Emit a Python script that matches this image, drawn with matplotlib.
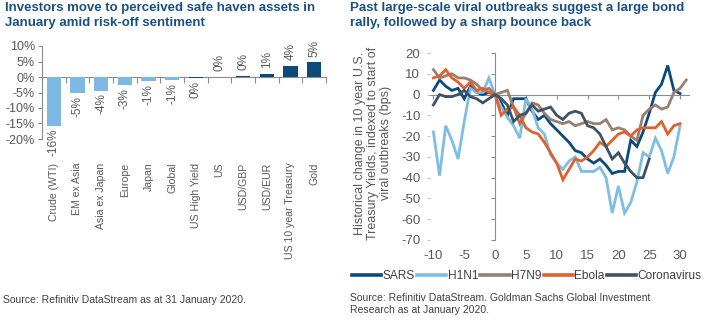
import matplotlib
matplotlib.use("Agg")
import matplotlib.pyplot as plt
import numpy as np
from matplotlib.lines import Line2D

plt.rcParams['font.family'] = ['Liberation Sans', 'DejaVu Sans']

# ---------------- data: left chart ----------------
categories = ["Crude (WTI)", "EM ex Asia", "Asia ex Japan", "Europe", "Japan", "Global",
              "US High Yield", "US", "USD/GBP", "USD/EUR", "US 10 year Treasury", "Gold"]
returns = [-15.7, -5.2, -4.4, -2.6, -1.4, -1.1, -0.4, 0.05, 0.4, 1.1, 3.6, 4.7]
safe_haven = [False, False, False, False, False, False, True, True, True, True, True, True]

# ---------------- data: right chart ----------------
sars = [2, 7, 4, 2, 3, -2, 4, 1, 0, 1, 0, -4, -10, -2, -2, -2, -8, -12, -10, -14, -17,
        -20, -23, -27, -28, -31, -33, -31, -34, -38, -37, -37, -22, -25, -18, -9, 1, 5, 14, 2, 0.5]
h1n1 = [-18, -39, -15, -22, -31, -13, 3, 1, 1, 8, 0, -6, -11, -15, -21, -2, -7, -16, -19, -29, -33,
        -36, -32, -30, -37, -37, -37, -35, -40, -57, -44, -57, -52, -42, -28, -30, -21, -27, -38, -30, -15]
h7n9 = [12, 8, 9, 10, 8, 8, 7, 5, 2, 3, 0, 1, 2, -6, -14, -9, -4, -5, -9, -12, -13,
        -14, -13, -15, -14, -13, -14, -14, -12, -17, -16, -17, -20, -22, -10, -7, -5, -7, -6, 1, 3, 7]
ebola = [8, 9, 12, 8, 6, 3, 6, 2, 3, 1, 0, -10, -7, -6, -10, -16, -18, -19, -23, -28, -33,
         -41, -36, -31, -32, -30, -27, -23, -25, -22, -19, -18, -20, -17, -16, -16, -16, -13, -19, -15, -14]
corona = [-5, 0, -1, -1, 0, 2, -1, -2, -4, -2, 0, -2, -5, -13, -10, -9, -5, -8, -7, -6, -10,
          -12, -9, -8, -9, -15, -16, -19, -25, -31, -28, -33, -37, -40, -40, -31]
series_names = ["SARS", "H1N1", "H7N9", "Ebola", "Coronavirus"]
series_vals = [sars, h1n1, h7n9, ebola, corona]
series_colors = ["#0D4A7C", "#7EBDE6", "#9A7F6E", "#E0612B", "#3E5366"]
start_day = -10

W, H = 709, 321
navy = "#1A5183"
axis_gray = "#8C8C8C"
tick_col = "#595959"
text_col = "#404040"

fig = plt.figure(figsize=(W / 100, H / 100), dpi=100)

def fr(x0, y0, x1, y1):
    return [x0 / W, 1 - y1 / H, (x1 - x0) / W, (y1 - y0) / H]

# ---------------- left chart ----------------
ax1 = fig.add_axes(fr(42, 46, 326, 139))
x = np.arange(len(categories))
colors = ["#0D4A7C" if s else "#7DB9E2" for s in safe_haven]
ax1.bar(x, returns, width=0.6, color=colors, zorder=3)
ax1.set_xlim(-0.5, len(categories) - 0.5)
ax1.set_ylim(-20, 10)
yt = np.arange(-20, 11, 5)
ax1.set_yticks(yt)
ax1.set_yticklabels([f"{t}%" for t in yt], fontsize=9, color=tick_col)
ax1.tick_params(axis='y', length=3, width=0.8, color=axis_gray, pad=2)
ax1.set_xticks(x)
ax1.set_xticklabels(categories, rotation=90, fontsize=7.6, color=tick_col)
ax1.tick_params(axis='x', length=0, pad=17)
for s in ["top", "right", "bottom"]:
    ax1.spines[s].set_visible(False)
ax1.spines["left"].set_color(axis_gray)
ax1.patch.set_alpha(0)

for xi, v in zip(x, returns):
    lab = f"{int(round(v))}%"
    if v >= 0:
        ax1.annotate(lab, (xi, v), xytext=(0, 4), textcoords="offset points",
                     rotation=90, ha="center", va="bottom", fontsize=8.5, color=tick_col)
    else:
        ax1.annotate(lab, (xi, v), xytext=(0, -2), textcoords="offset points",
                     rotation=90, ha="center", va="top", fontsize=8.5, color=tick_col)

sec1 = ax1.secondary_xaxis(20 / 30)
sec1.set_xticks(np.arange(-0.5, len(categories), 1))
sec1.tick_params(axis='x', length=4, width=0.8, color=axis_gray, direction='in',
                 labeltop=False, labelbottom=False)
for sp in sec1.spines.values():
    sp.set_color(axis_gray)

# ---------------- right chart ----------------
ax2 = fig.add_axes(fr(430, 53, 689, 240))
xmin, xmax = -10.55, 31.45
for name, vals, col in zip(series_names, series_vals, series_colors):
    days = np.arange(start_day, start_day + len(vals))
    ax2.plot(days, vals, color=col, lw=2.0, label=name, solid_joinstyle='miter', zorder=3)
ax2.set_xlim(xmin, xmax)
ax2.set_ylim(-70, 20)
ax2.set_yticks(np.arange(-70, 21, 10))
ax2.set_yticklabels([str(t) for t in np.arange(-70, 21, 10)], fontsize=9.5, color=tick_col)
ax2.tick_params(axis='y', length=2, width=0.6, color="#BBBBBB", pad=5)
ax2.set_xticks(np.arange(-10, 31, 5))
ax2.set_xticklabels([str(t) for t in np.arange(-10, 31, 5)], fontsize=9.5, color=tick_col)
ax2.tick_params(axis='x', length=0, pad=7)
for s in ax2.spines.values():
    s.set_visible(False)
ax2.patch.set_alpha(0)

secx = ax2.secondary_xaxis(70 / 90)
secx.set_xticks(np.arange(-10, 31, 5))
secx.tick_params(axis='x', length=3, width=0.8, color=axis_gray, direction='in',
                 labeltop=False, labelbottom=False)
for sp in secx.spines.values():
    sp.set_color(axis_gray)

secy = ax2.secondary_yaxis((0 - xmin) / (xmax - xmin))
secy.set_yticks(np.arange(-70, 21, 10))
secy.tick_params(axis='y', length=3, width=0.8, color=axis_gray,
                 labelleft=False, labelright=False)
for sp in secy.spines.values():
    sp.set_color(axis_gray)

fig.text(373 / W, 1 - 143 / H,
         "Historical change in 10 year U.S.\nTreasury Yields, indexed to start of\nviral outbreaks (bps)",
         rotation=90, ha="center", va="center", multialignment="center",
         fontsize=9, color=tick_col, linespacing=1.15)

handles = [Line2D([0], [0], color=c, lw=2.6) for c in series_colors]
fig.legend(handles, series_names, loc="upper left", bbox_to_anchor=(352 / W, 1 - 270 / H),
           ncol=5, frameon=False, fontsize=8.6, handlelength=2.45, handletextpad=0.1,
           columnspacing=0.2, borderaxespad=0, borderpad=0, labelcolor=text_col)

# ---------------- titles & sources ----------------
fig.text(5 / W, 1 - 2 / H, "Investors move to perceived safe haven assets in\nJanuary amid risk-off sentiment",
         ha="left", va="top", fontsize=9.5, weight="bold", color=navy, linespacing=1.3)
fig.text(350 / W, 1 - 2 / H, "Past large-scale viral outbreaks suggest a large bond\nrally, followed by a sharp bounce back",
         ha="left", va="top", fontsize=9.5, weight="bold", color=navy, linespacing=1.3)
fig.text(3 / W, 1 - 300 / H, "Source: Refinitiv DataStream as at 31 January 2020.",
         ha="left", va="center", fontsize=7.5, color=text_col)
fig.text(350 / W, 1 - 293 / H,
         "Source: Refinitiv DataStream. Goldman Sachs Global Investment\nResearch as at January 2020.",
         ha="left", va="top", fontsize=7.5, color=text_col, linespacing=1.25)

fig.savefig("out.png", dpi=100)
